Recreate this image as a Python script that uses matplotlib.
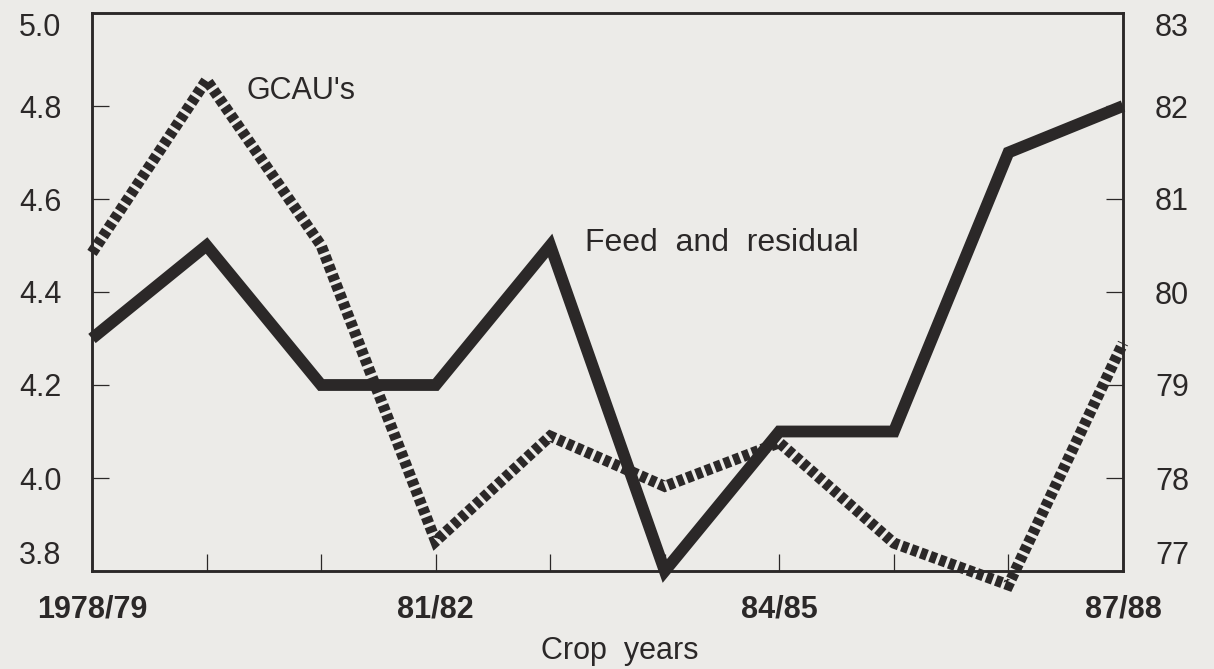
import matplotlib
matplotlib.use("Agg")
import matplotlib.pyplot as plt
import numpy as np

# Data
years = ["1978/79", "79/80", "80/81", "81/82", "82/83", "83/84", "84/85", "85/86", "86/87", "87/88"]
feed_residual = [4.3, 4.5, 4.2, 4.2, 4.5, 3.8, 4.1, 4.1, 4.7, 4.8]
gcaus = [80.42, 82.28, 80.5, 77.32, 78.45, 77.91, 78.38, 77.3, 76.85, 79.45]
left_ticks = [3.8, 4.0, 4.2, 4.4, 4.6, 4.8, 5.0]
right_ticks = [77, 78, 79, 80, 81, 82, 83]
xlabel_years = ["1978/79", "81/82", "84/85", "87/88"]

BG = "#ecebe8"
INK = "#2b2828"

plt.rcParams['font.family'] = ['Liberation Sans', 'DejaVu Sans']

fig = plt.figure(figsize=(12.14, 6.69), dpi=100, facecolor=BG)
ax = fig.add_axes([92/1214, (669-571)/669, (1123-92)/1214, (571-13)/669])
ax.set_facecolor(BG)
x = np.arange(len(years))

ax.plot(x, feed_residual, color=INK, lw=8.5, solid_joinstyle='miter',
        solid_capstyle='butt', clip_on=False, zorder=3)
ax.set_xlim(0, len(years) - 1)
ax.set_ylim(left_ticks[0], left_ticks[-1])
ax.set_yticks(left_ticks)
ax.set_yticklabels([f"{v:.1f}" for v in left_ticks])

ax2 = ax.twinx()
ax2.plot(x, gcaus, color=INK, lw=8, dashes=(0.6, 0.3), dash_capstyle='butt',
         dash_joinstyle='miter', clip_on=False, zorder=4)
ax2.set_ylim(right_ticks[0], right_ticks[-1])
ax2.set_yticks(right_ticks)
ax2.set_yticklabels([str(v) for v in right_ticks])

for a in (ax, ax2):
    for s in a.spines.values():
        s.set_linewidth(1.8)
        s.set_color(INK)

ax.set_xticks(x)
ax.set_xticklabels([y if y in xlabel_years else "" for y in years],
                   fontsize=22, fontweight='bold', color=INK)
ax.tick_params(axis='x', direction='in', length=12, width=0.9, color=INK, pad=17)
ax.tick_params(axis='y', direction='in', length=12, width=0.9, color=INK,
               labelsize=22, pad=22, labelcolor=INK)
ax2.tick_params(axis='y', direction='in', length=12, width=0.9, color=INK,
                labelsize=22, pad=23, labelcolor=INK)

for a in (ax, ax2):
    labs = a.get_yticklabels()
    labs[0].set_verticalalignment('bottom')
    labs[-1].set_verticalalignment('top')

ax.set_xlabel("Crop  years", fontsize=22, color=INK)
ax.xaxis.set_label_coords((620 - 92) / 1031, (571 - 651) / 558)
ax.xaxis.label.set_verticalalignment('center')

ax2.text(1.35, 82.16, "GCAU's", fontsize=22, color=INK, va='center', ha='left')
ax.text(4.3, 4.505, "Feed  and  residual", fontsize=23, color=INK,
        va='center', ha='left')

fig.savefig("out.png", dpi=100, facecolor=BG)
